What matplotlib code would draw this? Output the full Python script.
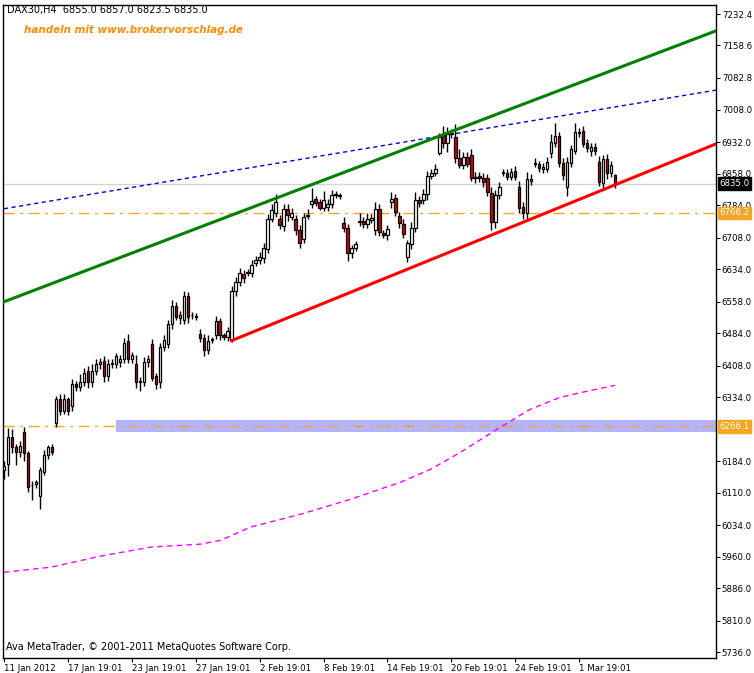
import matplotlib
matplotlib.use("Agg")
import matplotlib.pyplot as plt
import numpy as np

plt.rcParams['font.family'] = ['DejaVu Sans']

opens = [6163,6177,6242,6217,6205,6252,6203,6128,6130,6102,6160,6200,6217,6275,6329,6303,6329,6313,6366,6359,
         6369,6395,6369,6395,6411,6418,6385,6413,6411,6416,6425,6465,6423,6413,6369,6371,6416,6458,6383,6369,
         6451,6460,6505,6549,6519,6516,6572,6526,6523,6483,6474,6446,6469,6481,6512,6479,6476,6469,6584,6605,
         6624,6626,6626,6650,6657,6661,6682,6753,6767,6753,6736,6776,6757,6753,6727,6706,6760,6788,6799,6792,
         6778,6781,6788,6809,6806,6743,6731,6673,6685,6746,6748,6741,6750,6727,6776,6720,6715,6792,6802,6760,
         6741,6664,6694,6731,6797,6797,6811,6853,6860,6907,6949,6930,6951,6944,6895,6879,6898,6902,6848,6853,
         6848,6848,6813,6746,6809,6860,6860,6851,6865,6827,6781,6767,6841,6881,6881,6870,6870,6907,6930,6947,
         6884,6827,6884,6912,6954,6959,6930,6912,6921,6886,6837,6893,6860,6855]
closes = [6172,6242,6217,6205,6221,6203,6125,6129,6135,6163,6200,6217,6207,6329,6303,6331,6303,6366,6359,6369,
          6392,6369,6395,6413,6416,6385,6411,6414,6430,6425,6462,6425,6434,6371,6373,6416,6423,6380,6366,6451,
          6469,6505,6549,6523,6526,6572,6523,6527,6524,6474,6444,6467,6470,6512,6481,6476,6490,6584,6605,6626,
          6614,6627,6645,6657,6664,6685,6753,6774,6792,6739,6776,6762,6767,6727,6696,6757,6762,6795,6790,6778,
          6797,6788,6809,6810,6807,6731,6673,6685,6694,6747,6741,6753,6755,6776,6722,6715,6729,6799,6769,6743,
          6717,6696,6731,6797,6790,6811,6853,6860,6870,6944,6930,6951,6954,6895,6879,6898,6881,6848,6851,6848,
          6839,6816,6746,6809,6827,6861,6851,6863,6851,6778,6767,6846,6846,6884,6872,6874,6886,6933,6947,6884,
          6856,6886,6916,6956,6956,6928,6919,6921,6912,6839,6893,6860,6879,6835]
wick_up = [12,20,18,8,10,12,6,10,6,8,10,6,8,8,12,10,6,10,6,20,10,12,18,10,10,14,12,10,8,8,10,18,6,20,8,12,10,12,8,10,
           12,10,14,8,10,12,8,8,8,10,8,12,6,12,8,6,8,10,10,10,8,8,10,8,10,10,10,12,18,8,12,10,10,8,12,8,14,30,6,8,
           20,12,10,8,6,14,10,6,6,20,8,12,8,16,10,6,8,16,8,8,10,6,14,18,10,12,12,8,10,10,20,16,10,30,22,12,10,14,10,10,
           12,10,14,10,12,8,10,8,12,14,10,16,12,10,8,10,12,18,30,10,10,12,10,20,10,12,10,10,10,14,10,12,10,2]
wick_dn = [20,28,14,30,10,18,12,35,8,30,8,10,8,10,10,8,10,12,10,10,8,12,10,8,10,16,12,10,8,10,10,10,8,14,20,10,10,8,12,12,
           8,10,10,8,12,10,14,8,8,10,12,10,8,10,12,8,10,6,12,10,12,8,10,8,10,12,10,8,10,10,12,14,8,12,12,10,8,10,8,6,
           8,10,10,8,8,10,20,12,8,10,10,10,8,12,10,8,12,14,10,12,10,12,12,10,10,10,14,8,8,6,12,20,10,12,8,10,8,8,12,10,
           12,10,20,14,10,8,8,8,8,12,14,16,10,8,10,10,8,12,10,10,12,20,10,8,10,8,10,12,10,10,12,14,10,11]

ma_idx = [0, 11.75, 24.25, 36.75, 49.25, 54.25, 61.75, 74.25, 86.75, 99.25, 106.75, 114.25, 124.25, 131.75, 139.25, 146.75, 153]
ma_val = [5924, 5936, 5962, 5983, 5990, 5999, 6030, 6060, 6095, 6135, 6165, 6205, 6264, 6306, 6334, 6350, 6362]

green_line = ([0, 178.25], [6558, 7193])
red_line = ([57, 178.25], [6467, 6928])
blue_line = ([0, 178.25], [6776, 7054])
band = (28, 178.25, 6252, 6280)
h_orange = [6766.2, 6266.1]
last_price = 6835.0

ytick_vals = [7232.4, 7158.6, 7082.8, 7008.0, 6932.0, 6858.0, 6784.0, 6708.0, 6634.0, 6558.0, 6484.0,
              6408.0, 6334.0, 6184.0, 6110.0, 6034.0, 5960.0, 5886.0, 5810.0, 5736.0]
xtick_idx = [0, 16, 32, 48, 64, 80, 96, 112, 128, 144]
xtick_lab = ["11 Jan 2012", "17 Jan 19:01", "23 Jan 19:01", "27 Jan 19:01", "2 Feb 19:01", "8 Feb 19:01",
             "14 Feb 19:01", "20 Feb 19:01", "24 Feb 19:01", "1 Mar 19:01"]

fig = plt.figure(figsize=(7.54, 6.73), dpi=100)
ax = fig.add_axes([3/754, 15/673, 713/754, 653/673])
ax.set_xlim(-0.25, 178.25)
ax.set_ylim(5723.1, 7253.5)

ax.axhspan(band[2], band[3], xmin=(band[0]+0.25)/178.5, xmax=1, color='#b3b3ff', lw=0, zorder=1)
ax.axhline(last_price, color='#d3d3d3', lw=1, zorder=1)
for h in h_orange:
    ax.axhline(h, color='#f5a623', lw=1, dashes=(8, 4, 2, 4), zorder=2)
ax.plot(*blue_line, color='#0000cc', lw=1, dashes=(3, 2.5), zorder=2)
ax.plot(ma_idx, ma_val, color='#ff00ff', lw=1, dashes=(4, 3), zorder=2)

x = np.arange(len(opens))
o = np.array(opens); c = np.array(closes)
top = np.maximum(o, c); bot = np.minimum(o, c)
hi = top + np.array(wick_up); lo = bot - np.array(wick_dn)
ax.vlines(x, lo, hi, color='black', lw=1, zorder=3)
colors = ['#dd0000' if cc < oo else 'white' for oo, cc in zip(o, c)]
ax.bar(x, np.maximum(top - bot, 1.5), bottom=bot, width=0.6, color=colors, edgecolor='black', lw=0.9, zorder=4)

ax.plot(*green_line, color='#008000', lw=2.2, zorder=5)
ax.plot(*red_line, color='#ff0000', lw=2.2, zorder=5)

ax.yaxis.tick_right()
ax.set_yticks(ytick_vals)
ax.set_yticklabels([f"{v:.1f}" for v in ytick_vals], fontsize=6.2)
ax.set_xticks(xtick_idx)
ax.set_xticklabels(xtick_lab, fontsize=6.2, ha='left')
ax.tick_params(axis='both', length=3, width=0.8, pad=1.2)
for s in ax.spines.values():
    s.set_linewidth(1)

def tag(v, fc, tc):
    ax.text(1.005, v, f"{v:.1f}", transform=ax.get_yaxis_transform(), fontsize=6.2, color=tc,
            va='center', ha='left', zorder=10,
            bbox=dict(boxstyle='square,pad=0.2', fc=fc, ec=fc), clip_on=False)
tag(last_price, 'black', 'white')
tag(6766.2, '#f5a623', 'white')
tag(6266.1, '#f5a623', 'white')

fig.text(7/754, 1-10/673, "DAX30,H4  6855.0 6857.0 6823.5 6835.0", fontsize=7, va='center', ha='left')
fig.text(24/754, 1-30/673, "handeln mit www.brokervorschlag.de", fontsize=7.5, color='#ff8c00',
         fontweight='bold', style='italic', va='center', ha='left')
fig.text(6/754, 1-647/673, "Ava MetaTrader, © 2001-2011 MetaQuotes Software Corp.", fontsize=7, va='center', ha='left')

fig.savefig("out.png", dpi=100)
